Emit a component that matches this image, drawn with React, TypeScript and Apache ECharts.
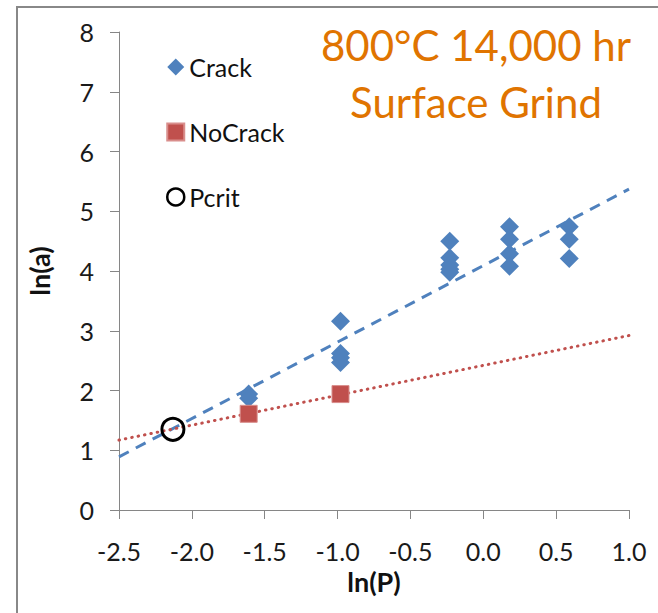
import React, { useEffect, useRef } from "react";
import * as echarts from "echarts";

// Crack observations: ln(P), ln(a)
const crackX = [-1.61, -1.61, -0.98, -0.98, -0.98, -0.98, -0.23, -0.23, -0.23, -0.23, -0.23, 0.18, 0.18, 0.18, 0.18, 0.59, 0.59, 0.59];
const crackY = [1.94, 1.87, 3.16, 2.62, 2.55, 2.47, 4.50, 4.22, 4.10, 4.03, 3.98, 4.74, 4.53, 4.29, 4.08, 4.74, 4.53, 4.21];
// NoCrack observations
const noCrackX = [-1.61, -0.98];
const noCrackY = [1.61, 1.94];
// Critical point
const pcritX = [-2.13];
const pcritY = [1.35];
// Trend lines (endpoints)
const crackTrendX = [-2.5, 1.0];
const crackTrendY = [0.89, 5.37];
const noCrackTrendX = [-2.5, 1.0];
const noCrackTrendY = [1.17, 2.92];
// Axes
const xTicks = [-2.5, -2.0, -1.5, -1.0, -0.5, 0.0, 0.5, 1.0];
const yTicks = [0, 1, 2, 3, 4, 5, 6, 7, 8];

const FONT = "Lato, 'Noto Sans', sans-serif";
const zip = (a: number[], b: number[]) => a.map((v, i) => [v, b[i]]);

export default function App() {
  const ref = useRef<HTMLDivElement>(null);
  useEffect(() => {
    if (!ref.current) return;
    const chart = echarts.init(ref.current, null, { renderer: "svg" });
    const axisColor = "#868686";
    chart.setOption({
      animation: false,
      backgroundColor: "#ffffff",
      textStyle: { fontFamily: FONT },
      grid: { left: 119, right: 29, top: 32, bottom: 103 },
      xAxis: {
        type: "value",
        min: xTicks[0],
        max: xTicks[xTicks.length - 1],
        interval: 0.5,
        name: "ln(P)",
        nameLocation: "middle",
        nameGap: 56,
        nameTextStyle: { fontSize: 27, fontWeight: "bold", color: "#111", fontFamily: FONT },
        axisLine: { onZero: false, lineStyle: { color: axisColor, width: 1 } },
        axisTick: { show: true, inside: false, length: 9, lineStyle: { color: axisColor } },
        splitLine: { show: false },
        axisLabel: {
          fontSize: 25,
          color: "#1a1a1a",
          margin: 28,
          fontFamily: FONT,
          formatter: (v: number) => v.toFixed(1),
        },
      },
      yAxis: {
        type: "value",
        min: yTicks[0],
        max: yTicks[yTicks.length - 1],
        interval: 1,
        name: "ln(a)",
        nameLocation: "middle",
        nameRotate: 90,
        nameGap: 66,
        nameTextStyle: { fontSize: 27, fontWeight: "bold", color: "#111", fontFamily: FONT },
        axisLine: { show: true, onZero: false, lineStyle: { color: axisColor, width: 1 } },
        axisTick: { show: true, inside: false, length: 9, lineStyle: { color: axisColor } },
        splitLine: { show: false },
        axisLabel: { fontSize: 25, color: "#1a1a1a", margin: 25, fontFamily: FONT },
      },
      legend: {
        orient: "vertical",
        left: 161,
        top: 49,
        itemWidth: 17,
        itemHeight: 17,
        itemGap: 39,
        textStyle: { fontSize: 25, color: "#111", fontFamily: FONT, lineHeight: 26 },
        data: [
          { name: "Crack", icon: "diamond" },
          { name: "NoCrack", icon: "rect" },
          {
            name: "Pcrit",
            icon: "circle",
            itemStyle: { color: "transparent", borderColor: "#000", borderWidth: 2.5 },
          },
        ],
      },
      graphic: [
        {
          type: "rect",
          shape: { x: 17, y: 7, width: 700, height: 700 },
          style: { fill: "none", stroke: "#888", lineWidth: 2 },
          silent: true,
        },
        {
          type: "text",
          x: 476,
          y: 16,
          style: {
            text: "800°C 14,000 hr\nSurface Grind",
            fill: "#E07400",
            font: `42px ${FONT}`,
            textAlign: "center",
            lineHeight: 57,
          },
        },
      ],
      series: [
        {
          name: "CrackTrend",
          type: "line",
          data: zip(crackTrendX, crackTrendY),
          showSymbol: false,
          symbol: "none",
          lineStyle: { color: "#4F81BD", width: 3, type: [11, 8] },
          z: 1,
          silent: true,
        },
        {
          name: "NoCrackTrend",
          type: "line",
          data: zip(noCrackTrendX, noCrackTrendY),
          showSymbol: false,
          symbol: "none",
          lineStyle: { color: "#C0504D", width: 3, type: [0.5, 6], cap: "round" },
          z: 1,
          silent: true,
        },
        {
          name: "Crack",
          type: "scatter",
          symbol: "diamond",
          symbolSize: 19,
          data: zip(crackX, crackY),
          itemStyle: { color: "#4F81BD", opacity: 1 },
          z: 3,
        },
        {
          name: "NoCrack",
          type: "scatter",
          symbol: "rect",
          symbolSize: 17,
          data: zip(noCrackX, noCrackY),
          itemStyle: { color: "#C0504D", borderColor: "#D98E8C", borderWidth: 1, opacity: 1 },
          z: 3,
        },
        {
          name: "Pcrit",
          type: "scatter",
          symbol: "circle",
          symbolSize: 22,
          data: zip(pcritX, pcritY),
          itemStyle: { color: "transparent", borderColor: "#000", borderWidth: 3, opacity: 1 },
          z: 4,
        },
      ],
    });
    return () => chart.dispose();
  }, []);
  return (
    <div
      ref={ref}
      style={{ position: "absolute", left: 0, top: 0, width: 658, height: 613 }}
    />
  );
}
